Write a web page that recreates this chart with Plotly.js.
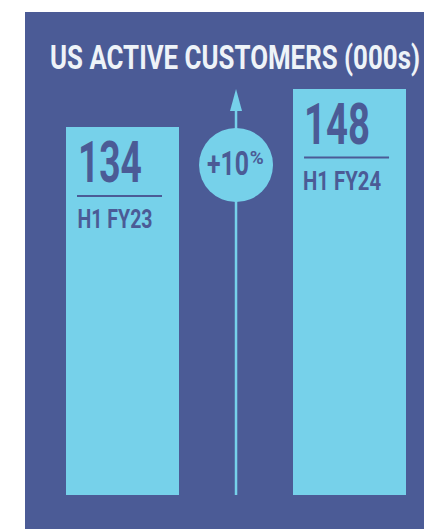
<!DOCTYPE html>
<html><head><meta charset="utf-8">
<script src="https://cdn.plot.ly/plotly-3.0.1.min.js"></script>
<style>html,body{margin:0;padding:0;background:#fff;}#chart{width:424px;height:529px;}</style>
</head><body><div id="chart"></div>
<script>
const chartTitle = "US ACTIVE CUSTOMERS (000s)";
const categories = ["H1 FY23", "H1 FY24"];
const values = [134, 148];

const PANEL = "#4B5B96";
const BAR = "#76D1EA";
const TEXT_LIGHT = "#EEF3F8";
const FONT = "Roboto, 'Noto Sans', sans-serif";

const xs = categories.map((c, i) => i);
const growth = Math.round((values[1] - values[0]) / values[0] * 100);
const growthText = "+" + growth;
const maxV = Math.max(...values);

const trace = {
  type: "bar", x: xs, y: values, width: 0.498,
  marker: {color: BAR, line: {width: 0}},
  hoverinfo: "skip", showlegend: false
};

// rendered widths (px) used to condense the glyphs like the original condensed typeface
const squeeze = {};
squeeze[chartTitle] = 370;
squeeze[growthText] = 42;
squeeze["%"] = 14;
const valueWidths = [64, 66];
const catWidths = [75, 78];

const annotations = [];
const shapes = [];
xs.forEach((x, i) => {
  squeeze[String(values[i])] = valueWidths[i];
  squeeze[categories[i]] = catWidths[i];
  annotations.push({
    x: x, y: values[i], xref: "x", yref: "y", text: String(values[i]),
    showarrow: false, xanchor: "center", yanchor: "middle", xshift: -12.5, yshift: -35,
    font: {family: FONT, size: 58, color: PANEL, weight: 700}
  });
  annotations.push({
    x: x, y: values[i], xref: "x", yref: "y", text: categories[i],
    showarrow: false, xanchor: "center", yanchor: "middle", xshift: -7.5, yshift: -92,
    font: {family: FONT, size: 25, color: PANEL, weight: 700}
  });
  shapes.push({
    type: "line", xref: "x", yref: "y", xsizemode: "pixel", ysizemode: "pixel",
    xanchor: x, yanchor: values[i], x0: -45.5, x1: 39.5, y0: -68.5, y1: -68.5,
    line: {color: PANEL, width: 2}
  });
});

// growth arrow
shapes.push({
  type: "line", xref: "x", yref: "y", x0: 0.5, x1: 0.5, y0: 0, y1: maxV * 0.97,
  line: {color: BAR, width: 2.5}, layer: "above"
});
shapes.push({
  type: "path", xref: "x", yref: "y", xsizemode: "pixel", ysizemode: "pixel",
  xanchor: 0.5, yanchor: maxV, path: "M -6,-22 L 6,-22 L 0,0 Z",
  fillcolor: BAR, line: {width: 0}, layer: "above"
});
shapes.push({
  type: "circle", xref: "x", yref: "y", xsizemode: "pixel", ysizemode: "pixel",
  xanchor: 0.5, yanchor: 0, x0: -37, x1: 37, y0: 293, y1: 367,
  fillcolor: BAR, line: {width: 0}, layer: "above"
});
annotations.push({
  x: 0.5, y: 0, xref: "x", yref: "y", text: growthText,
  showarrow: false, xanchor: "center", yanchor: "middle", xshift: -8, yshift: 331,
  font: {family: FONT, size: 33, color: PANEL, weight: 700}
});
annotations.push({
  x: 0.5, y: 0, xref: "x", yref: "y", text: "%",
  showarrow: false, xanchor: "center", yanchor: "middle", xshift: 20, yshift: 337,
  font: {family: FONT, size: 18, color: PANEL, weight: 700}
});

const layout = {
  width: 424, height: 529,
  margin: {l: 25, r: 0, t: 12, b: 0, pad: 0},
  paper_bgcolor: "#FFFFFF", plot_bgcolor: PANEL,
  title: {text: chartTitle, x: 235/424, xanchor: "center", y: 1 - 57/529, yanchor: "middle",
    font: {family: FONT, size: 34, color: TEXT_LIGHT, weight: 700}},
  xaxis: {range: [-0.4295, 1.328], visible: false, fixedrange: true},
  yaxis: {range: [-12.4, 176.1], visible: false, fixedrange: true},
  shapes: shapes, annotations: annotations, bargap: 0
};

Plotly.newPlot("chart", [trace], layout, {staticPlot: true, displayModeBar: false}).then(() => {
  document.querySelectorAll("#chart svg text").forEach(t => {
    const w = squeeze[t.textContent];
    if (w) {
      t.setAttribute("textLength", w);
      t.setAttribute("lengthAdjust", "spacingAndGlyphs");
    }
  });
});
</script></body></html>
